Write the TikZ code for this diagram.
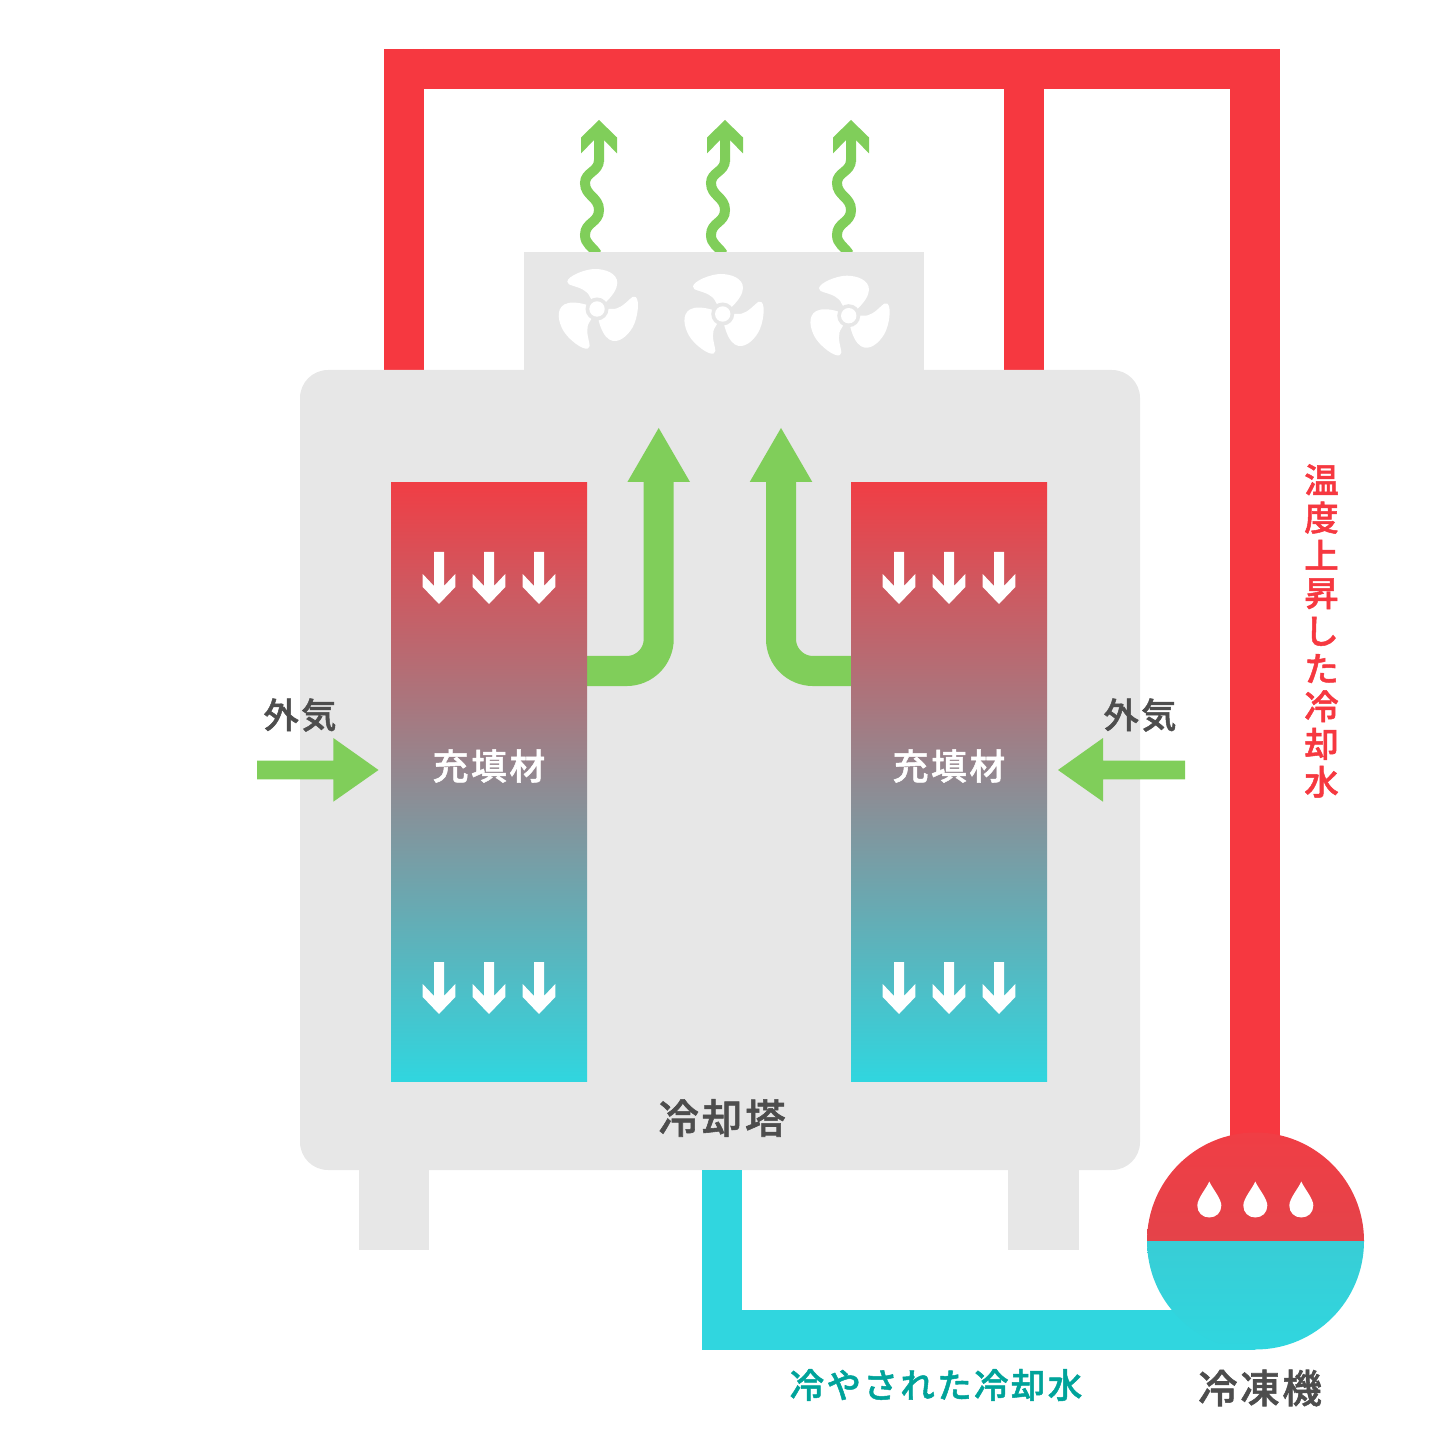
\documentclass[tikz,border=0pt]{standalone}
\usepackage{fontspec}
\newfontfamily\cjk[LetterSpace=7,FakeBold=1.4]{Noto Sans CJK JP Medium}
\usetikzlibrary{calc}

\definecolor{hotred}{HTML}{F63840}
\definecolor{fillred}{HTML}{F03E45}
\definecolor{coldcyan}{HTML}{30D6DF}
\definecolor{towergray}{HTML}{E7E7E7}
\definecolor{airgreen}{HTML}{80CE5A}
\definecolor{labeldark}{HTML}{4D4D4D}
\definecolor{labelteal}{HTML}{00A39A}
\definecolor{fillmid}{HTML}{8E8D96}

\tikzset{
  redpipe/.style={draw=hotred, line width=4mm},
  wideredpipe/.style={draw=hotred, line width=5mm},
  cyanpipe/.style={draw=coldcyan, line width=4mm},
  airflow/.style={draw=airgreen, line width=3mm, rounded corners=3.2mm},
  fillbox/.style={top color=fillred, middle color=fillmid, bottom color=coldcyan},
  darklabel/.style={text=labeldark, font=\cjk\fontsize{10}{12}\selectfont},
  whitelabel/.style={text=white, font=\cjk\fontsize{10.2}{12}\selectfont},
  wavyarrow/.pic={
    \draw[airgreen, line width=1mm] (0,40) .. controls (0,52) and (-14,52) .. (-14,63)
      .. controls (-14,76) and (0,77) .. (0,90)
      .. controls (0,103) and (-14,102) .. (-14,115)
      .. controls (-14,124) and (-7,126) .. (-2,134);
    \fill[airgreen] (0,0) -- (18,17.5) -- (18,33.5) -- (5,20) -- (5,42) -- (-5,42) -- (-5,20) -- (-18,33.5) -- (-18,17.5) -- cycle;
  },
  fallarrow/.pic={
    \fill[white] (-5,0) -- (5,0) -- (5,34) -- (16.3,22) -- (16.3,35) -- (0,52) -- (-16.3,35) -- (-16.3,22) -- (-5,34) -- cycle;
  },
  waterdrop/.pic={
    \fill[white] (0,-24) .. controls (-3,-17) and (-12,-7) .. (-12,0)
      .. controls (-12,7) and (-7,12) .. (0,12)
      .. controls (7,12) and (12,7) .. (12,0)
      .. controls (12,-7) and (3,-17) .. (0,-24) -- cycle;
  },
  fanblade/.pic={
    \fill[white] (9.7,-7.7) .. controls (15,-13) and (20.3,-20) .. (20.3,-26)
      .. controls (20.3,-36) and (8,-40) .. (-2,-40)
      .. controls (-12,-40) and (-29,-33) .. (-29.7,-27.5)
      .. controls (-30,-25) and (-27,-24) .. (-25,-23.5)
      .. controls (-17,-21) and (-10,-19) .. (-7,-12) -- (0,0) -- cycle;
  },
  fanwheel/.pic={
    \pic {fanblade};
    \pic[rotate=120] {fanblade};
    \pic[rotate=240] {fanblade};
    \fill[towergray] (0,0) circle[radius=11.5];
    \fill[white] (0,0) circle[radius=7.7];
  }
}

\begin{document}
\begin{tikzpicture}[x=0.01cm, y=-0.01cm]
\useasboundingbox (0,0) rectangle (1440,1440);

% Points for the pipes
\coordinate (pipeTL) at (404,49);
\coordinate (pipeL) at (404,370);
\coordinate (pipeTM) at (1024,69);
\coordinate (pipeM) at (1024,370);
\coordinate (barL) at (384,69);
\coordinate (barR) at (1280,69);
\coordinate (pipeTR) at (1255,49);
\coordinate (pipeR) at (1255,1140);
\coordinate (coldA) at (722,1170);
\coordinate (coldB) at (722,1330);
\coordinate (coldC) at (1255,1330);
\coordinate (chiller) at (1255.5,1241);

% Draw warm water pipes
\draw[redpipe] (pipeTL) -- (pipeL);
\draw[redpipe] (barL) -- (barR);
\draw[redpipe] (pipeTM) -- (pipeM);
\draw[wideredpipe] (pipeTR) -- (pipeR);

% Exhaust above the fans
\pic at (599,120) {wavyarrow};
\pic at (725,120) {wavyarrow};
\pic at (851,120) {wavyarrow};

% Tower body, fan housing and legs
\fill[towergray] (524,252) rectangle (924,380);
\fill[towergray, rounded corners=2.8mm] (300,370) rectangle (1140,1170);
\fill[towergray] (358.5,1165) rectangle (429,1250);
\fill[towergray] (1008,1165) rectangle (1079,1250);

% Fans
\pic at (597,309) {fanwheel};
\pic at (722.7,314) {fanwheel};
\pic at (848.7,315.7) {fanwheel};

% Air leaving the fill
\draw[airflow] (580,671) -- (658.7,671) -- (658.7,470);
\fill[airgreen] (658.7,428) -- (690,482) -- (627.4,482) -- cycle;
\draw[airflow] (858,671) -- (781,671) -- (781,470);
\fill[airgreen] (781,428) -- (812.3,482) -- (749.7,482) -- cycle;

% Fill blocks
\shade[fillbox] (391,482.5) rectangle (587,1081.5);
\shade[fillbox] (851,482.5) rectangle (1047,1081.5);

% Falling water, upper and lower rows
\pic at (439,552) {fallarrow};
\pic at (489,552) {fallarrow};
\pic at (539,552) {fallarrow};
\pic at (899,552) {fallarrow};
\pic at (949,552) {fallarrow};
\pic at (999,552) {fallarrow};
\pic at (439,962) {fallarrow};
\pic at (489,962) {fallarrow};
\pic at (539,962) {fallarrow};
\pic at (899,962) {fallarrow};
\pic at (949,962) {fallarrow};
\pic at (999,962) {fallarrow};

% Outside air
\fill[airgreen] (257,760.7) -- (333.3,760.7) -- (333.3,738) -- (378.5,770) -- (333.3,801.7) -- (333.3,779.3) -- (257,779.3) -- cycle;
\fill[airgreen] (1185,760.7) -- (1103,760.7) -- (1103,738) -- (1058,770) -- (1103,801.7) -- (1103,779.3) -- (1185,779.3) -- cycle;

% Cooled water pipe
\draw[cyanpipe] (coldA) -- (coldB) -- (coldC);
\fill[coldcyan] (702,1310) rectangle (742,1350);

% Chiller
\shade[top color=fillred, bottom color=hotred!85!gray] ($(chiller)+(-108.5,0)$) arc[start angle=180, end angle=360, radius=108.5] -- cycle;
\shade[top color=coldcyan!90!gray, bottom color=coldcyan] ($(chiller)+(-108.5,0)$) arc[start angle=180, end angle=0, radius=108.5] -- cycle;
\pic at (1209.3,1205.5) {waterdrop};
\pic at (1255.3,1205.5) {waterdrop};
\pic at (1301.3,1205.5) {waterdrop};

% Labels
\node[darklabel] (airL) at (300,715) {外気};
\node[darklabel] (airR) at (1140,715) {外気};
\node[whitelabel] (fillL) at (489,766) {充填材};
\node[whitelabel] (fillR) at (949,766) {充填材};
\node[darklabel, font=\cjk\fontsize{11.5}{13}\selectfont] (tower) at (722,1118) {冷却塔};
\node[darklabel, font=\cjk\fontsize{11.2}{13}\selectfont] (chillerlabel) at (1260,1388) {冷凍機};
\node[text=labelteal, font=\cjk\fontsize{9.8}{12}\selectfont] (coldlabel) at (936,1385) {冷やされた冷却水};
\node[text=hotred, align=center, font=\cjk\fontsize{9.8}{10.73}\selectfont] (warmlabel) at (1321.5,631) {温\\度\\上\\昇\\し\\た\\冷\\却\\水};

\end{tikzpicture}
\end{document}
